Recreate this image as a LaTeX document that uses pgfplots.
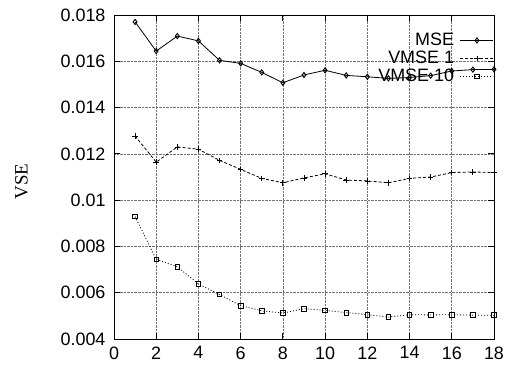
\documentclass[border=0pt]{standalone}
\usepackage{fontspec}
\setmainfont{Liberation Sans}
\newfontfamily\timesfont{Liberation Serif}
\usepackage{pgfplots}
\pgfplotsset{compat=1.18}
\begin{document}
\begin{tikzpicture}
\useasboundingbox (-114bp,-29bp) rectangle (391bp,339bp);
\begin{axis}[
  at={(0,0)}, anchor=south west,
  scale only axis, width=380bp, height=324bp,
  xmin=0, xmax=18, ymin=0.004, ymax=0.018,
  xtick={0,2,4,6,8,10,12,14,16,18},
  xticklabels={0,2,4,6,8,10,12,14,16,18},
  ytick={0.004,0.006,0.008,0.010,0.012,0.014,0.016,0.018},
  yticklabels={0.004,0.006,0.008,0.01,0.012,0.014,0.016,0.018},
  scaled y ticks=false,
  /pgf/number format/assume math mode=true,
  grid=major,
  major grid style={densely dotted, black!55, line width=0.6bp},
  axis line style={line width=0.9bp},
  tick style={black, line width=0.8bp},
  major tick length=6bp,
  tick align=inside,
  tick label style={font=\fontsize{18}{18}\selectfont},
  yticklabel style={xshift=-5bp},
  xticklabel style={yshift=-4bp},
  ylabel={VSE},
  every axis y label/.style={at={(axis description cs:-0.2434,0.486)}, anchor=center, rotate=90, font=\timesfont\fontsize{19}{19}\selectfont},
  legend plot pos=right,
  legend cell align=right,
  legend style={draw=none, fill=none, at={(axis description cs:1.008,0.953)}, anchor=north east,
    font=\fontsize{18}{18}\selectfont, nodes={inner sep=1bp}, row sep=2bp, column sep=5bp},
  every axis plot/.append style={black, line width=0.8bp},
  legend image code/.code={\draw[mark repeat=2,mark phase=2,#1] plot coordinates {(0bp,0bp) (16.5bp,0bp) (33bp,0bp)};},
]
\addplot[solid, mark=diamond, mark size=2.6bp, mark options={solid, line width=0.9bp}] coordinates {
(1,0.01770) (2,0.01644) (3,0.01709) (4,0.01688) (5,0.01604) (6,0.01591) (7,0.01552) (8,0.01507) (9,0.01541)
(10,0.01561) (11,0.01539) (12,0.01533) (13,0.01526) (14,0.01530) (15,0.01538) (16,0.01558) (17,0.01564) (18,0.01565)};
\addlegendentry{MSE}
\addplot[dash pattern=on 3bp off 2bp, mark=+, mark size=2.8bp, mark options={solid}] coordinates {
(1,0.01277) (2,0.01164) (3,0.01230) (4,0.01220) (5,0.01172) (6,0.01133) (7,0.01094) (8,0.01075) (9,0.01096)
(10,0.01114) (11,0.01087) (12,0.01083) (13,0.01075) (14,0.01094) (15,0.01100) (16,0.01119) (17,0.01122) (18,0.01119)};
\addlegendentry{VMSE 1}
\addplot[dash pattern=on 1bp off 2bp, mark=square, mark size=2.3bp, mark options={solid}] coordinates {
(1,0.00929) (2,0.00744) (3,0.00712) (4,0.00638) (5,0.00592) (6,0.00544) (7,0.00522) (8,0.00512) (9,0.00531)
(10,0.00524) (11,0.00514) (12,0.00505) (13,0.00495) (14,0.00505) (15,0.00504) (16,0.00505) (17,0.00503) (18,0.00503)};
\addlegendentry{VMSE 10}
\end{axis}
\end{tikzpicture}
\end{document}
